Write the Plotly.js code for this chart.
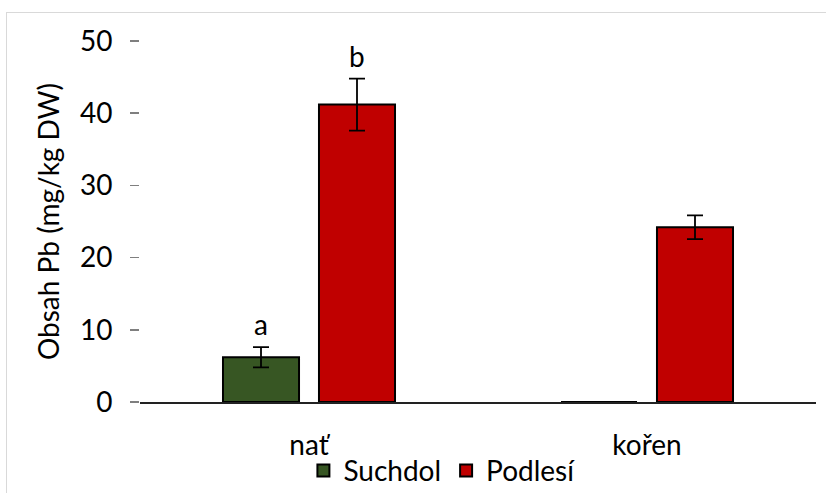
<!DOCTYPE html>
<html>
<head>
<meta charset="utf-8">
<script src="https://cdn.plot.ly/plotly-3.0.1.min.js"></script>
<style>
html,body{margin:0;padding:0;background:#fff;}
#wrap{position:relative;width:826px;height:493px;overflow:hidden;}
#frame{position:absolute;left:6px;top:12px;width:900px;height:600px;border:1.5px solid #d9d9d9;box-sizing:border-box;}
#chart{position:absolute;left:0;top:0;width:826px;height:493px;}
</style>
</head>
<body>
<div id="wrap"><div id="frame"></div><div id="chart"></div></div>
<script>
const categories = ['nať', 'kořen'];
const seriesNames = ['Suchdol', 'Podlesí'];
const suchdol = [6.2, 0];
const suchdolErr = [1.4, 0];
const podlesi = [41.2, 24.2];
const podlesiErr = [3.6, 1.65];
const sigLetters = {Suchdol: ['a', ''], 'Podlesí': ['b', '']};
const yTicks = [0, 10, 20, 30, 40, 50];

const FONT = 'Lato, "Open Sans", sans-serif';
const FS = 28;
const colors = ['#375623', '#C00000'];

const traces = [
  {type: 'bar', name: seriesNames[0], x: categories, y: suchdol,
   marker: {color: colors[0], line: {color: '#000', width: 2}},
   error_y: {type: 'data', array: suchdolErr, visible: true, color: '#000', thickness: 1.8, width: 8}},
  {type: 'bar', name: seriesNames[1], x: categories, y: podlesi,
   marker: {color: colors[1], line: {color: '#000', width: 2}},
   error_y: {type: 'data', array: podlesiErr, visible: true, color: '#000', thickness: 1.8, width: 8}}
];

const annotations = [];
[[suchdol, suchdolErr, 'Suchdol', -48], [podlesi, podlesiErr, 'Podlesí', 48]].forEach(([vals, errs, nm, shift]) => {
  categories.forEach((c, i) => {
    const t = sigLetters[nm][i];
    if (t) annotations.push({x: c, y: vals[i] + errs[i], xref: 'x', yref: 'y', text: t,
      showarrow: false, yanchor: 'bottom', xshift: shift, yshift: 4,
      font: {family: FONT, size: FS, color: '#000'}});
  });
});

const layout = {
  width: 826, height: 493,
  margin: {l: 140, r: 10, t: 41, b: 91},
  paper_bgcolor: 'rgba(0,0,0,0)', plot_bgcolor: 'rgba(0,0,0,0)',
  font: {family: FONT, size: FS, color: '#000'},
  barmode: 'group', bargap: 0.432, bargroupgap: 0.208,
  showlegend: true,
  legend: {orientation: 'h', x: 0.535, xanchor: 'center', xref: 'container', y: 0.045, yref: 'container', yanchor: 'middle',
           font: {family: FONT, size: FS, color: '#000'}, itemwidth: 30, traceorder: 'normal'},
  xaxis: {type: 'category', showgrid: false, zeroline: false, showline: true, linecolor: '#222', linewidth: 1.5,
          ticks: '', ticklabelstandoff: 18, tickfont: {family: FONT, size: FS}},
  yaxis: {range: [0, 50], tickvals: yTicks, showgrid: false, zeroline: false, showline: false,
          ticks: 'outside', ticklen: 9, tickcolor: '#7f7f7f', tickwidth: 1.5, ticklabelstandoff: 12,
          tickfont: {family: FONT, size: FS},
          title: {text: 'Obsah Pb (mg/kg DW)', standoff: 12, font: {family: FONT, size: FS}}},
  annotations: annotations
};

Plotly.newPlot('chart', traces, layout, {displayModeBar: false, staticPlot: true});
</script>
</body>
</html>
